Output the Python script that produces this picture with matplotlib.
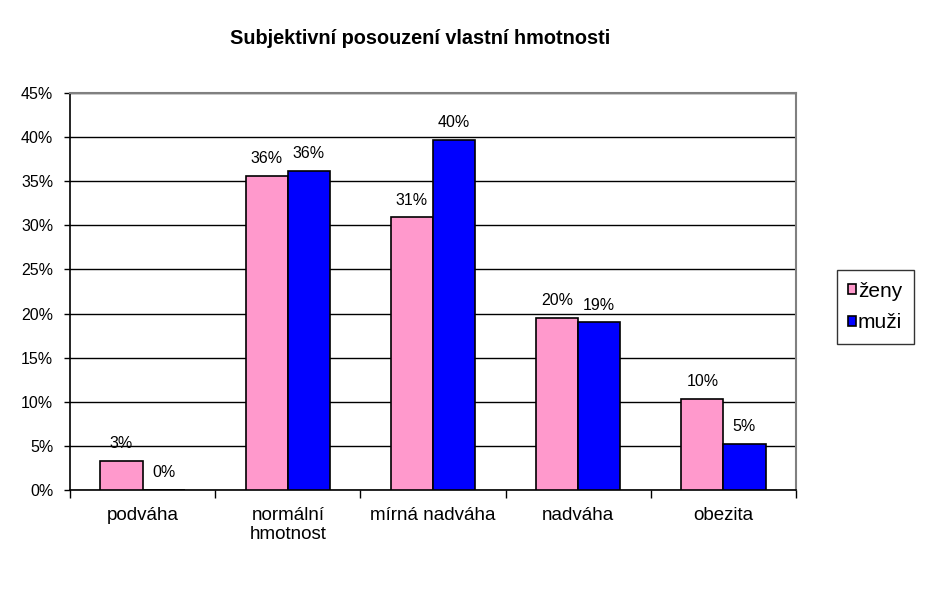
import matplotlib
matplotlib.use("Agg")
import matplotlib.pyplot as plt
import numpy as np
from matplotlib.ticker import MultipleLocator, FuncFormatter

plt.rcParams['font.family'] = ['Liberation Sans', 'DejaVu Sans']

categories = ["podváha", "normální\nhmotnost", "mírná nadváha", "nadváha", "obezita"]
zeny = [3.3, 35.6, 30.9, 19.5, 10.3]
muzi = [0.0, 36.2, 39.7, 19.0, 5.2]
series_names = ["ženy", "muži"]
colors = ["#FF99CC", "#0000FF"]
title = "Subjektivní posouzení vlastní hmotnosti"

fig = plt.figure(figsize=(9.29, 6.06), dpi=100)
ax = fig.add_axes([70/929, 1-490/606, 726/929, 397/606])

x = np.arange(len(categories))
w = 0.29
for vals, off, col, name in [(zeny, -w/2, colors[0], series_names[0]),
                             (muzi, w/2, colors[1], series_names[1])]:
    bars = ax.bar(x + off, vals, w, color=col, edgecolor="black", linewidth=1.2,
                  label=name, zorder=3)
    for b, v in zip(bars, vals):
        ax.annotate(f"{v:.0f}%", (b.get_x() + b.get_width()/2, v),
                    xytext=(0, 7), textcoords="offset points",
                    ha="center", va="bottom", fontsize=11.5)

ax.set_xlim(-0.5, len(categories) - 0.5)
ax.set_ylim(0, 45)
ax.yaxis.set_major_locator(MultipleLocator(5))
ax.yaxis.set_major_formatter(FuncFormatter(lambda v, p: f"{v:.0f}%"))
ax.grid(axis="y", color="black", linewidth=1, zorder=0)
ax.set_axisbelow(True)

ax.set_xticks(x)
ax.set_xticklabels(categories, fontsize=13.5)
ax.set_xticks(np.arange(len(categories) + 1) - 0.5, minor=True)
ax.tick_params(axis="x", which="major", length=0, pad=12)
ax.tick_params(axis="x", which="minor", length=6, width=1, direction="out")
ax.tick_params(axis="y", length=4, width=1, direction="out", labelsize=11.5, pad=8)

for s in ["left", "bottom"]:
    ax.spines[s].set_color("black")
    ax.spines[s].set_linewidth(1.2)
for s in ["top", "right"]:
    ax.spines[s].set_color("#808080")
    ax.spines[s].set_linewidth(1.5)

fig.text(420/929, 1-38/606, title, ha="center", va="center",
         fontsize=14.3, fontweight="bold")

leg = ax.legend(loc="center left", bbox_to_anchor=(837/929, 1-307/606),
                bbox_transform=fig.transFigure, fontsize=15, frameon=True,
                fancybox=False, edgecolor="black", handlelength=0.38,
                handleheight=0.38, handletextpad=0.08, labelspacing=0.6,
                borderpad=0.55, borderaxespad=0)
leg.get_frame().set_linewidth(1)

fig.savefig("out.png", dpi=100, facecolor="white")
